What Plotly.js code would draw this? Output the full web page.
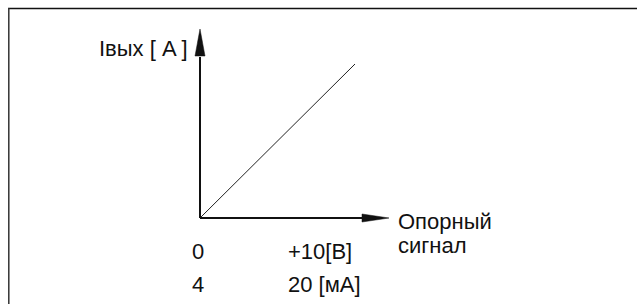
<!DOCTYPE html>
<html>
<head>
<meta charset="utf-8">
<script src="https://cdn.plot.ly/plotly-3.0.1.min.js"></script>
<style>html,body{margin:0;padding:0;background:#fff;}#chart{width:639px;height:304px;}</style>
</head>
<body>
<div id="chart"></div>
<script>
// ---- data ----
const signalV = [0, 10];            // reference signal, V
const outputMA = [4, 20];           // output current, mA
const signalTickLabels = ['0', '+10[B]'];
const currentTickLabels = ['4', '20 [мА]'];
const yAxisTitle = 'Iвых [ A ]';
const xAxisTitleLines = ['Опорный', 'сигнал'];

// ---- layout constants (pixels) ----
const W = 639, H = 304;
const ORIGIN_PX = 200, TEN_V_PX = 355;
const FOUR_MA_PY = 218, TWENTY_MA_PY = 64;
const pxPerV = (TEN_V_PX - ORIGIN_PX) / (signalV[1] - signalV[0]);
const pxPerMA = (FOUR_MA_PY - TWENTY_MA_PY) / (outputMA[1] - outputMA[0]);
const vx = px => signalV[0] + (px - ORIGIN_PX) / pxPerV;
const my = py => outputMA[0] + (FOUR_MA_PY - py) / pxPerMA;
const py2paper = py => 1 - py / H;
const px2paper = px => px / W;

const INK = '#111111';
const FONT = {family: 'Liberation Sans, Arial, sans-serif', size: 22, color: INK};

// axis arrows (drawn in data space)
const xTip = vx(389), xBase = vx(362), xHalf = 4 / pxPerMA;
const yTip = my(29), yBase = my(56), yHalf = 5 / pxPerV;

const shapes = [
  // axes
  {type: 'line', xref: 'x', yref: 'y', x0: signalV[0], y0: outputMA[0], x1: xBase + 0.1, y1: outputMA[0], line: {color: INK, width: 2}},
  {type: 'line', xref: 'x', yref: 'y', x0: signalV[0], y0: outputMA[0], x1: signalV[0], y1: yBase - 0.1, line: {color: INK, width: 2}},
  {type: 'path', xref: 'x', yref: 'y', path: `M${xBase},${outputMA[0] - xHalf} L${xTip},${outputMA[0]} L${xBase},${outputMA[0] + xHalf} Z`, fillcolor: INK, line: {color: INK, width: 0.5}},
  {type: 'path', xref: 'x', yref: 'y', path: `M${signalV[0] - yHalf},${yBase} L${signalV[0]},${yTip} L${signalV[0] + yHalf},${yBase} Z`, fillcolor: INK, line: {color: INK, width: 0.5}},
  // frame
  {type: 'line', xref: 'paper', yref: 'paper', x0: px2paper(8), x1: px2paper(637), y0: py2paper(8.5), y1: py2paper(8.5), line: {color: '#111', width: 1.3}},
  {type: 'line', xref: 'paper', yref: 'paper', x0: px2paper(8.8), x1: px2paper(8.8), y0: py2paper(8), y1: 0, line: {color: '#333', width: 1.5}}
];

const ann = (o) => Object.assign({showarrow: false, font: FONT, yanchor: 'middle'}, o);
const annotations = [
  ann({xref: 'x', yref: 'paper', x: signalV[0], xanchor: 'center', xshift: -2, y: py2paper(251), text: signalTickLabels[0]}),
  ann({xref: 'x', yref: 'paper', x: signalV[1], xanchor: 'left', xshift: -69, y: py2paper(251), text: signalTickLabels[1]}),
  ann({xref: 'x', yref: 'paper', x: signalV[0], xanchor: 'center', xshift: -2, y: py2paper(284), text: currentTickLabels[0]}),
  ann({xref: 'x', yref: 'paper', x: signalV[1], xanchor: 'left', xshift: -69, y: py2paper(284), text: currentTickLabels[1]}),
  ann({xref: 'x', yref: 'paper', x: signalV[0], xanchor: 'right', xshift: -10, y: py2paper(48), text: yAxisTitle}),
  ann({xref: 'x', yref: 'paper', x: xTip, xanchor: 'left', xshift: 7, y: py2paper(221), text: xAxisTitleLines[0]}),
  ann({xref: 'x', yref: 'paper', x: xTip, xanchor: 'left', xshift: 7, y: py2paper(245), text: xAxisTitleLines[1]})
];

const trace = {
  x: signalV, y: outputMA, type: 'scatter', mode: 'lines',
  line: {color: '#222', width: 1}, hoverinfo: 'skip', cliponaxis: false
};

const layout = {
  width: W, height: H,
  margin: {l: 0, r: 0, t: 0, b: 0, pad: 0},
  paper_bgcolor: '#fff', plot_bgcolor: '#fff',
  showlegend: false,
  xaxis: {range: [vx(0), vx(W)], visible: false, fixedrange: true},
  yaxis: {range: [my(H), my(0)], visible: false, fixedrange: true},
  shapes: shapes,
  annotations: annotations
};

Plotly.newPlot('chart', [trace], layout, {staticPlot: true, displayModeBar: false});
</script>
</body>
</html>
